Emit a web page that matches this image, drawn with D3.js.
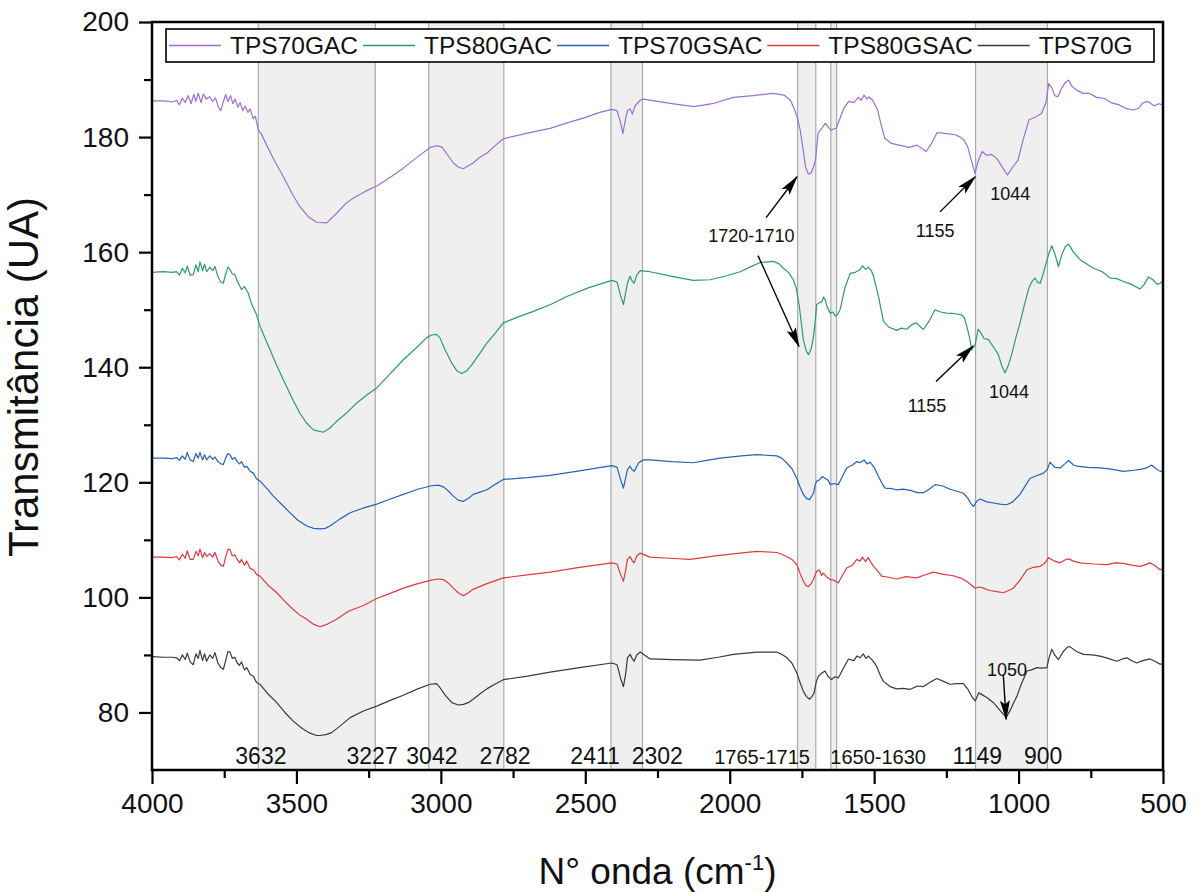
<!DOCTYPE html>
<html>
<head>
<meta charset="utf-8">
<script src="https://cdn.jsdelivr.net/npm/d3@7"></script>
<style>
body { margin: 0; background: #fff; }
text { font-family: "Liberation Sans", Arial, sans-serif; fill: #111; }
</style>
</head>
<body>
<svg id="chart" width="1202" height="892"></svg>
<script>
// ---- data ----
var seriesNames = ["TPS70GAC", "TPS80GAC", "TPS70GSAC", "TPS80GSAC", "TPS70G"];
var seriesColors = ["#9d6fd6", "#2f9b68", "#2463b8", "#df3a3d", "#3a3a3a"];

var tps70gac = [[4000,186.3],[3960,186.3],[3930,186.1],[3915,186.4],[3905,185.6],[3895,186.8],[3885,186.0],[3875,187.2],[3865,185.8],[3855,187.4],[3848,186.2],[3840,187.6],[3830,186.0],[3822,187.5],[3812,186.6],[3800,187.0],[3790,186.2],[3780,186.8],[3770,185.2],[3762,184.6],[3755,185.8],[3745,187.4],[3737,186.2],[3728,187.2],[3720,185.8],[3712,186.6],[3703,185.2],[3695,186.0],[3686,184.6],[3678,185.4],[3668,184.3],[3660,184.9],[3650,183.2],[3642,183.6],[3632,181.2],[3622,180.6],[3603,178.6],[3575,175.8],[3545,173.1],[3515,170.2],[3488,167.9],[3460,166.2],[3430,165.2],[3395,165.1],[3360,166.8],[3330,168.4],[3303,169.4],[3260,170.6],[3222,171.5],[3175,173.0],[3130,174.6],[3080,176.6],[3037,178.2],[3015,178.5],[2997,178.3],[2975,176.8],[2957,175.5],[2940,174.8],[2922,174.5],[2905,175.0],[2888,175.5],[2865,176.5],[2841,177.2],[2810,178.6],[2784,179.7],[2700,180.7],[2622,181.5],[2560,182.5],[2507,183.3],[2450,184.3],[2408,184.8],[2390,184.6],[2378,182.5],[2370,180.6],[2362,182.8],[2354,184.6],[2345,184.9],[2337,184.0],[2328,185.4],[2310,186.4],[2299,186.6],[2250,186.2],[2200,185.8],[2124,185.3],[2060,185.8],[1987,186.9],[1920,187.2],[1850,187.6],[1812,187.3],[1790,186.4],[1775,184.7],[1765,183.2],[1756,181.2],[1745,177.5],[1738,174.9],[1728,173.6],[1719,173.7],[1710,174.8],[1703,176.0],[1694,180.7],[1680,181.6],[1669,182.4],[1660,181.8],[1650,181.2],[1640,181.4],[1632,181.5],[1620,183.0],[1605,185.0],[1588,186.2],[1570,186.0],[1555,186.9],[1545,186.4],[1535,187.3],[1525,186.6],[1519,187.0],[1505,186.4],[1488,184.7],[1475,182.0],[1463,179.8],[1440,178.9],[1413,178.6],[1380,178.2],[1351,178.6],[1335,178.0],[1320,177.5],[1300,179.0],[1282,180.8],[1250,180.6],[1220,180.4],[1201,180.0],[1188,179.4],[1176,178.3],[1165,176.2],[1151,173.7],[1140,175.8],[1126,177.5],[1110,176.8],[1095,177.0],[1076,176.3],[1058,174.9],[1039,173.4],[1020,174.8],[1002,176.0],[985,179.4],[964,183.0],[945,183.4],[921,184.1],[905,186.0],[896,189.3],[885,188.6],[875,187.2],[864,187.0],[850,188.6],[838,189.5],[827,189.9],[815,188.8],[800,188.2],[777,187.6],[755,187.6],[730,186.9],[702,186.7],[680,186.0],[652,185.6],[630,185.0],[602,184.7],[585,185.0],[570,185.9],[552,186.2],[530,185.4],[515,185.8],[500,185.6]];

var tps80gac = [[4000,156.5],[3960,156.6],[3930,156.5],[3915,156.6],[3905,156.0],[3895,157.2],[3885,156.4],[3878,157.6],[3868,156.0],[3857,156.1],[3848,157.8],[3840,156.6],[3834,158.3],[3825,156.8],[3818,157.9],[3811,156.6],[3800,157.4],[3790,156.8],[3782,157.5],[3772,155.8],[3762,154.8],[3753,154.6],[3745,156.2],[3737,157.4],[3730,157.0],[3722,156.2],[3713,156.1],[3705,155.0],[3697,154.2],[3690,153.5],[3680,154.0],[3667,152.9],[3658,151.4],[3649,150.3],[3640,149.4],[3626,147.1],[3610,145.2],[3591,143.0],[3570,140.5],[3545,137.8],[3515,134.6],[3488,132.0],[3465,130.3],[3441,129.1],[3407,128.7],[3385,129.4],[3361,130.6],[3325,132.1],[3291,133.8],[3255,135.2],[3222,136.4],[3175,138.9],[3130,141.3],[3080,143.6],[3050,145.1],[3032,145.6],[3015,145.7],[3003,145.1],[2985,143.0],[2962,140.7],[2945,139.4],[2928,138.9],[2910,139.4],[2893,140.4],[2865,142.4],[2841,144.2],[2810,146.0],[2784,147.7],[2730,148.8],[2680,149.7],[2620,150.9],[2564,152.3],[2490,153.8],[2408,155.1],[2390,154.8],[2378,152.5],[2368,150.9],[2360,153.0],[2354,154.6],[2345,155.8],[2338,155.0],[2331,154.6],[2322,156.0],[2310,156.8],[2276,156.6],[2200,155.8],[2126,155.1],[2068,155.2],[2010,155.9],[1964,156.6],[1930,157.4],[1895,158.2],[1849,158.4],[1830,158.0],[1814,157.2],[1795,156.4],[1780,155.2],[1770,153.8],[1759,150.6],[1752,147.6],[1745,144.8],[1735,142.8],[1727,142.2],[1718,143.2],[1710,145.3],[1703,148.5],[1699,150.9],[1690,151.2],[1681,151.4],[1675,152.2],[1670,151.8],[1662,150.4],[1652,149.4],[1642,149.6],[1635,148.9],[1626,149.2],[1618,150.0],[1600,154.0],[1583,156.3],[1565,156.5],[1549,157.0],[1540,157.6],[1530,157.0],[1520,157.4],[1510,156.8],[1502,155.8],[1485,152.3],[1468,148.0],[1450,147.0],[1422,146.4],[1405,146.8],[1387,146.6],[1370,147.4],[1353,147.7],[1340,147.0],[1329,146.6],[1310,148.0],[1289,150.0],[1270,149.6],[1248,149.4],[1220,149.3],[1197,149.1],[1188,148.6],[1179,147.1],[1170,145.2],[1162,143.0],[1150,144.0],[1140,146.6],[1133,146.2],[1120,145.0],[1104,144.8],[1088,143.6],[1070,142.2],[1058,140.2],[1047,139.0],[1035,140.4],[1024,142.2],[1010,145.0],[995,147.7],[980,150.8],[966,153.5],[955,154.8],[943,155.5],[935,154.8],[925,154.6],[915,156.2],[908,157.5],[895,159.8],[885,161.1],[875,159.8],[862,157.5],[850,159.6],[838,161.0],[827,161.4],[810,160.0],[787,158.7],[765,158.0],[741,157.2],[710,156.6],[683,155.5],[660,155.4],[637,154.9],[610,154.4],[579,153.6],[565,154.4],[550,155.7],[535,155.2],[520,154.4],[510,154.6],[500,155.0]];

var tps70gsac = [[4000,124.2],[3960,124.2],[3930,124.1],[3915,124.3],[3905,123.8],[3895,124.6],[3885,124.0],[3878,125.2],[3868,123.9],[3857,123.6],[3848,125.0],[3840,124.2],[3834,125.2],[3825,123.9],[3818,124.8],[3811,123.9],[3800,124.6],[3790,124.0],[3782,124.4],[3772,123.6],[3762,123.2],[3753,123.1],[3745,124.2],[3737,125.0],[3730,124.8],[3722,124.0],[3713,124.3],[3705,123.6],[3697,123.2],[3690,123.6],[3680,122.6],[3672,122.8],[3660,121.9],[3649,121.6],[3638,120.6],[3626,120.2],[3600,118.8],[3580,117.6],[3550,116.1],[3522,114.7],[3495,113.4],[3464,112.4],[3440,112.0],[3418,111.9],[3400,112.0],[3384,112.4],[3350,113.6],[3314,114.7],[3270,115.5],[3222,116.2],[3175,117.1],[3130,117.9],[3080,118.8],[3032,119.4],[3010,119.5],[2991,119.2],[2972,118.4],[2957,117.6],[2940,116.9],[2922,116.7],[2905,117.2],[2888,117.9],[2865,118.3],[2841,118.7],[2810,119.7],[2784,120.5],[2700,120.8],[2622,121.2],[2520,122.0],[2408,122.9],[2390,122.6],[2378,120.5],[2368,119.0],[2360,120.8],[2354,122.2],[2345,122.8],[2338,122.2],[2331,121.9],[2315,123.4],[2299,123.9],[2276,123.9],[2200,123.6],[2126,123.4],[2080,123.8],[2033,124.2],[1960,124.6],[1906,124.8],[1837,124.6],[1820,124.2],[1803,123.4],[1785,122.4],[1768,120.7],[1755,119.0],[1745,117.9],[1735,117.2],[1724,117.0],[1716,117.6],[1710,118.1],[1704,119.6],[1699,120.2],[1690,120.4],[1680,121.0],[1670,120.7],[1660,120.4],[1652,119.6],[1640,119.8],[1624,119.6],[1610,121.0],[1595,122.5],[1575,123.0],[1560,123.6],[1549,123.4],[1535,123.9],[1525,123.2],[1514,123.5],[1500,122.6],[1485,121.0],[1470,119.6],[1462,119.0],[1440,118.9],[1422,118.7],[1400,118.8],[1375,118.6],[1350,118.2],[1329,118.2],[1310,118.8],[1289,119.6],[1265,119.4],[1237,118.8],[1210,118.4],[1191,118.1],[1175,117.2],[1165,116.3],[1156,115.8],[1145,116.7],[1133,117.1],[1110,116.6],[1087,116.4],[1065,116.2],[1041,116.1],[1020,116.6],[995,117.9],[978,119.3],[960,120.7],[940,121.1],[914,121.6],[900,122.3],[891,123.5],[875,122.6],[856,122.5],[840,123.2],[827,123.8],[810,123.0],[798,122.8],[760,122.6],[718,122.5],[680,122.3],[637,121.9],[600,122.1],[575,122.3],[556,122.5],[540,123.0],[525,122.4],[510,121.9],[500,122.0]];

var tps80gsac = [[4000,107.0],[3960,107.0],[3930,106.9],[3915,107.1],[3905,106.5],[3895,107.5],[3885,106.8],[3878,108.1],[3868,106.6],[3857,106.6],[3848,108.0],[3840,107.2],[3834,108.4],[3825,106.9],[3818,107.8],[3811,107.1],[3800,107.6],[3790,107.0],[3782,107.8],[3772,106.4],[3762,105.6],[3753,105.4],[3745,107.0],[3737,108.4],[3730,108.3],[3722,107.2],[3713,107.4],[3705,106.6],[3697,106.0],[3690,106.6],[3680,105.6],[3672,106.3],[3660,105.0],[3649,104.8],[3638,104.0],[3626,103.7],[3600,102.2],[3568,100.8],[3540,99.3],[3511,97.9],[3490,97.0],[3464,96.2],[3440,95.3],[3418,94.9],[3395,95.3],[3361,96.2],[3320,97.6],[3268,98.6],[3222,99.8],[3175,100.7],[3130,101.6],[3080,102.4],[3032,103.0],[3010,103.2],[2991,103.1],[2972,102.4],[2957,101.6],[2940,100.8],[2922,100.3],[2905,100.8],[2888,101.4],[2841,102.4],[2784,103.4],[2700,103.9],[2622,104.4],[2520,105.2],[2408,106.0],[2390,105.8],[2378,104.0],[2368,102.8],[2360,104.8],[2354,106.6],[2345,107.1],[2338,106.4],[2331,106.0],[2322,107.2],[2310,107.7],[2276,107.0],[2210,106.8],[2137,106.6],[2050,107.2],[1964,107.7],[1906,108.0],[1837,107.8],[1820,107.5],[1803,107.1],[1785,106.6],[1768,105.7],[1755,104.0],[1745,102.8],[1735,102.0],[1727,101.9],[1718,102.4],[1710,103.1],[1704,104.0],[1699,104.5],[1690,104.8],[1682,103.8],[1676,104.2],[1665,103.6],[1652,103.1],[1640,103.0],[1624,102.5],[1610,103.8],[1595,105.1],[1575,105.6],[1560,106.6],[1549,106.3],[1540,107.0],[1530,106.2],[1520,106.9],[1510,106.0],[1502,105.4],[1488,104.6],[1474,103.7],[1450,103.5],[1422,103.2],[1390,103.6],[1353,103.4],[1325,103.9],[1295,104.4],[1260,104.0],[1230,103.8],[1202,103.4],[1180,102.8],[1165,102.2],[1150,101.6],[1135,101.8],[1122,101.6],[1100,101.2],[1075,101.0],[1052,100.8],[1035,101.2],[1018,101.6],[995,103.0],[971,104.8],[950,105.2],[925,105.4],[910,105.9],[896,106.9],[880,106.4],[856,106.0],[840,106.5],[827,106.7],[810,106.3],[787,106.0],[740,105.8],[695,105.7],[665,106.0],[637,105.9],[610,105.6],[579,105.4],[560,105.7],[545,106.0],[530,105.6],[510,104.8],[500,105.0]];

var tps70g = [[4000,89.7],[3960,89.6],[3930,89.6],[3915,89.5],[3905,89.0],[3895,90.0],[3885,89.2],[3878,90.3],[3868,88.8],[3857,88.3],[3848,90.2],[3840,89.4],[3834,90.8],[3825,89.0],[3818,90.2],[3811,88.9],[3800,90.0],[3790,89.4],[3782,90.4],[3772,88.6],[3762,87.8],[3753,87.5],[3745,89.0],[3737,90.6],[3730,90.5],[3722,89.4],[3713,89.6],[3705,88.6],[3697,88.2],[3690,88.8],[3680,87.4],[3672,87.8],[3660,86.6],[3649,86.3],[3638,85.2],[3626,84.9],[3600,83.3],[3568,81.7],[3540,80.0],[3511,78.5],[3480,77.2],[3453,76.4],[3430,76.0],[3418,76.0],[3395,76.2],[3378,76.5],[3345,77.8],[3314,79.1],[3270,80.2],[3222,81.1],[3175,82.1],[3130,83.0],[3080,84.1],[3037,84.9],[3015,85.0],[3003,84.3],[2985,83.0],[2962,81.7],[2940,81.3],[2922,81.4],[2905,81.7],[2888,82.3],[2865,83.2],[2841,84.1],[2810,85.0],[2784,85.7],[2700,86.3],[2622,87.0],[2520,87.8],[2408,88.6],[2390,88.3],[2378,86.0],[2368,84.5],[2360,86.8],[2354,89.5],[2345,90.1],[2338,89.4],[2331,88.9],[2322,90.0],[2310,90.5],[2276,89.3],[2200,89.2],[2103,89.1],[2040,89.6],[1987,90.1],[1906,90.5],[1837,90.5],[1820,90.1],[1802,89.5],[1785,88.6],[1768,86.9],[1755,85.0],[1745,83.7],[1735,82.8],[1724,82.3],[1716,82.7],[1708,83.4],[1700,85.4],[1693,86.3],[1682,86.8],[1670,87.2],[1660,86.3],[1647,85.7],[1636,86.2],[1624,86.0],[1605,87.8],[1589,89.3],[1570,89.0],[1560,89.8],[1549,89.5],[1538,90.2],[1528,89.4],[1520,89.8],[1505,89.0],[1491,88.0],[1480,86.6],[1468,85.4],[1445,84.5],[1422,84.1],[1400,84.2],[1376,84.0],[1350,84.6],[1329,84.5],[1305,85.3],[1283,85.9],[1260,85.4],[1237,84.9],[1215,85.0],[1191,85.0],[1175,84.0],[1160,82.6],[1150,82.0],[1138,83.4],[1127,83.1],[1110,82.6],[1087,81.7],[1065,80.4],[1043,79.1],[1025,80.8],[1006,82.8],[990,85.0],[971,87.2],[955,87.4],[937,87.8],[920,87.7],[902,87.8],[895,89.4],[885,91.0],[875,90.0],[862,89.2],[845,90.6],[830,91.4],[821,91.4],[800,90.6],[775,90.1],[745,90.0],[718,89.8],[690,89.4],[660,88.9],[640,89.3],[625,89.5],[608,89.0],[591,88.6],[570,89.0],[545,89.3],[525,88.8],[510,88.4],[500,88.4]];

// shaded wavenumber ranges
var bands = [[3632,3227],[3042,2782],[2411,2302],[1765,1702],[1650,1630],[1149,900]];
// labels under the bands: text, wavenumber of centre
var bandLabels = [["3632",3623],["3227",3238],["3042",3031],["2782",2778],["2411",2466],["2302",2251],["1765-1715",1888],["1650-1630",1486],["1149",1143],["900",915]];
// peak annotations: text, wavenumber, transmittance (text anchor)
var peakLabels = [["1720-1710",1925,161.8],["1155",1289,162.7],["1044",1029,169.1],["1155",1317,132.3],["1044",1033,134.7],["1050",1040,86.3]];
// arrows: from [wn, T] to [wn, T]
var arrows = [[[1874,166.0],[1767,173.1]],[[1902,159.4],[1760,143.6]],[[1272,167.0],[1150,173.1]],[[1286,137.5],[1157,143.7]],[[1053,86.6],[1043,78.8]]];

var xTicks = [4000,3500,3000,2500,2000,1500,1000,500];
var xMinor = [3750,3250,2750,2250,1750,1250,750];
var yTicks = [80,100,120,140,160,180,200];
var yMinor = [90,110,130,150,170,190];

var allSeries = [tps70gac, tps80gac, tps70gsac, tps80gsac, tps70g];

// ---- layout ----
var margin = {top: 22, right: 39, bottom: 122, left: 152};
var width = 1202, height = 892;
var svg = d3.select("#chart");

var x = d3.scaleLinear().domain([4000, 500]).range([margin.left, width - margin.right]);
var y = d3.scaleLinear().domain([70, 200]).range([height - margin.bottom, margin.top]);

// bands
var bandG = svg.append("g");
bands.forEach(function(b) {
    bandG.append("rect")
        .attr("x", x(b[0])).attr("y", y(200))
        .attr("width", x(b[1]) - x(b[0])).attr("height", y(70) - y(200))
        .attr("fill", "#efefef");
    [b[0], b[1]].forEach(function(v) {
        bandG.append("line")
            .attr("x1", x(v)).attr("x2", x(v))
            .attr("y1", y(200)).attr("y2", y(70))
            .attr("stroke", "#aaaaaa").attr("stroke-width", 1.2);
    });
});

// spectra
var line = d3.line().x(function(d) { return x(d[0]); }).y(function(d) { return y(d[1]); });
allSeries.forEach(function(s, i) {
    svg.append("path")
        .attr("d", line(s))
        .attr("fill", "none")
        .attr("stroke", seriesColors[i])
        .attr("stroke-width", 1.2)
        .attr("stroke-linejoin", "round");
});

// arrowhead
svg.append("defs").append("marker")
    .attr("id", "head")
    .attr("markerUnits", "userSpaceOnUse")
    .attr("viewBox", "0 -6 20 12")
    .attr("refX", 19).attr("refY", 0)
    .attr("markerWidth", 20).attr("markerHeight", 12)
    .attr("orient", "auto")
    .append("path")
    .attr("d", "M0,-5L20,0L0,5L4,0Z")
    .attr("fill", "#000");

arrows.forEach(function(a) {
    svg.append("line")
        .attr("x1", x(a[0][0])).attr("y1", y(a[0][1]))
        .attr("x2", x(a[1][0])).attr("y2", y(a[1][1]))
        .attr("stroke", "#000").attr("stroke-width", 1.4)
        .attr("marker-end", "url(#head)");
});

peakLabels.forEach(function(p) {
    svg.append("text")
        .attr("x", x(p[1])).attr("y", y(p[2]))
        .attr("text-anchor", "middle")
        .style("font-size", "18px")
        .text(p[0]);
});

bandLabels.forEach(function(b) {
    svg.append("text")
        .attr("x", x(b[1])).attr("y", y(71))
        .attr("text-anchor", "middle")
        .style("font-size", b[0].length > 4 ? "20px" : "23px")
        .text(b[0]);
});

// frame
svg.append("rect")
    .attr("x", margin.left).attr("y", margin.top)
    .attr("width", width - margin.right - margin.left)
    .attr("height", height - margin.bottom - margin.top)
    .attr("fill", "none").attr("stroke", "#000").attr("stroke-width", 2.5);

// axes
function styleAxis(g) {
    g.select(".domain").remove();
    g.selectAll(".tick line").attr("stroke", "#000").attr("stroke-width", 2.2);
    g.selectAll(".tick text").style("font-family", "'Liberation Sans', Arial, sans-serif")
        .style("font-size", "28px").attr("fill", "#111");
}
svg.append("g")
    .attr("transform", `translate(0,${y(70)})`)
    .call(d3.axisBottom(x).tickValues(xTicks).tickSize(14).tickPadding(9).tickFormat(d3.format("d")))
    .call(styleAxis);
svg.append("g")
    .attr("transform", `translate(0,${y(70)})`)
    .call(d3.axisBottom(x).tickValues(xMinor).tickSize(8).tickFormat(""))
    .call(styleAxis);
svg.append("g")
    .attr("transform", `translate(${x(4000)},0)`)
    .call(d3.axisLeft(y).tickValues(yTicks).tickSize(13).tickPadding(10))
    .call(styleAxis);
svg.append("g")
    .attr("transform", `translate(${x(4000)},0)`)
    .call(d3.axisLeft(y).tickValues(yMinor).tickSize(8).tickFormat(""))
    .call(styleAxis);

// axis titles
var xt = svg.append("text")
    .attr("x", (x(4000) + x(500)) / 2).attr("y", 884)
    .attr("text-anchor", "middle")
    .style("font-size", "37px");
xt.append("tspan").text("N° onda (cm");
xt.append("tspan").attr("dy", -14).style("font-size", "22px").text("-1");
xt.append("tspan").attr("dy", 14).text(")");

svg.append("text")
    .attr("transform", `translate(38,${(y(70) + y(200)) / 2 - 19}) rotate(-90)`)
    .attr("text-anchor", "middle")
    .style("font-size", "42px")
    .text("Transmitância (UA)");

// legend
var leg = svg.append("g");
leg.append("rect")
    .attr("x", 166).attr("y", 29).attr("width", 988).attr("height", 33)
    .attr("fill", "#fff").attr("stroke", "#000").attr("stroke-width", 1.6);
var cx = 169;
seriesNames.forEach(function(n, i) {
    leg.append("line")
        .attr("x1", cx).attr("x2", cx + 52)
        .attr("y1", 45.5).attr("y2", 45.5)
        .attr("stroke", seriesColors[i]).attr("stroke-width", 1.5);
    var t = leg.append("text")
        .attr("x", cx + 61).attr("y", 54)
        .style("font-size", "24.5px")
        .text(n);
    cx = cx + 61 + t.node().getComputedTextLength() + 5;
});
</script>
</body>
</html>
